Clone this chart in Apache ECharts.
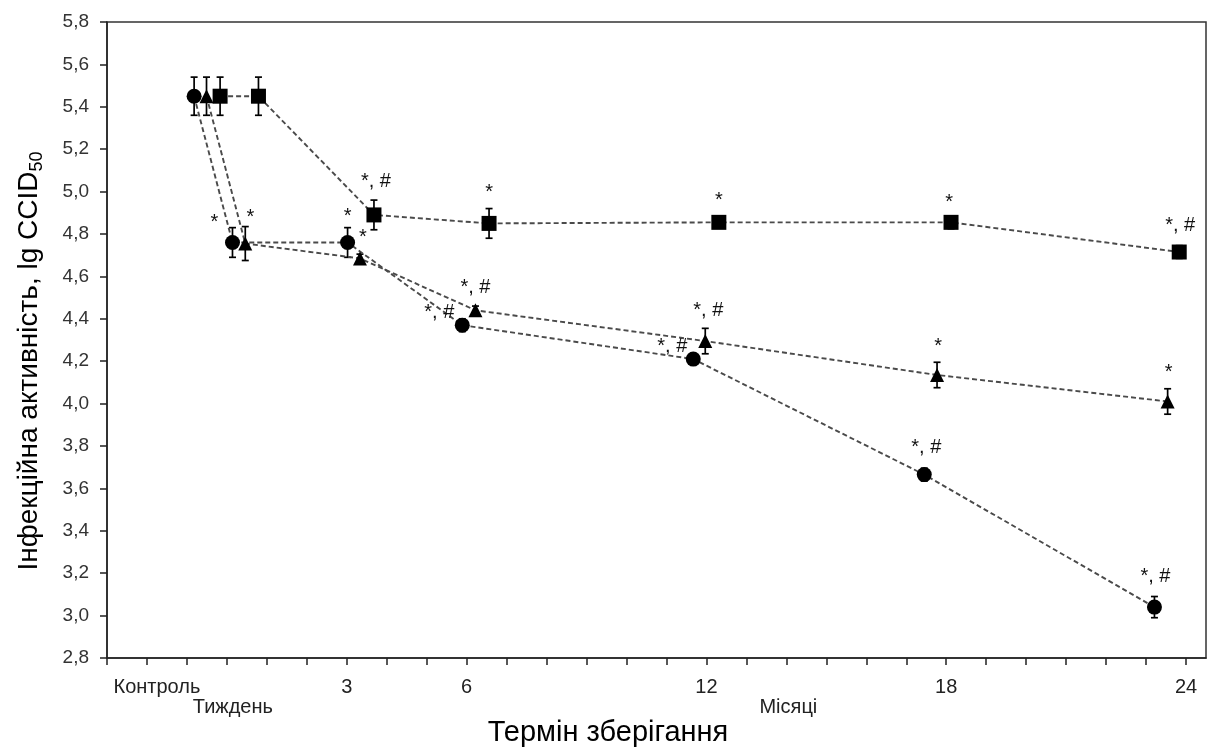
<!DOCTYPE html>
<html>
<head>
<meta charset="utf-8">
<script src="https://cdn.jsdelivr.net/npm/echarts@6/dist/echarts.min.js"></script>
<style>html,body{margin:0;padding:0;background:#fff}#c{width:1209px;height:747px}</style>
</head>
<body>
<div id="c"></div>
<script>
// ---- data ----
const xTickValues = [-3,-2,-1,0,1,2,3,4,5,6,7,8,9,10,11,12,13,14,15,16,17,18,19,20,21,22,23,24];
const xLabelValues = [-1.75, 3, 6, 12, 18, 24];
const xLabelTexts = ['Контроль', '3', '6', '12', '18', '24'];
const xLabel2Values = [0.15, 14.05];
const xLabel2Texts = ['Тиждень', 'Місяці'];

const circleX = [-0.82, 0.14, 3.02, 5.89, 11.67, 17.45, 23.21];
const circleY = [5.45, 4.76, 4.76, 4.37, 4.21, 3.665, 3.04];
const circleErr = [0.09, 0.07, 0.07, 0.03, 0.02, 0.03, 0.05];
const circleAnn = ['', '*', '*', '*, #', '*, #', '*, #', '*, #'];

const triX = [-0.51, 0.46, 3.33, 6.22, 11.97, 17.77, 23.54];
const triY = [5.45, 4.755, 4.685, 4.44, 4.295, 4.135, 4.01];
const triErr = [0.09, 0.08, 0.02, 0.02, 0.06, 0.06, 0.06];
const triAnn = ['', '*', '*', '*, #', '*, #', '*', '*'];

const sqX = [-0.17, 0.79, 3.68, 6.56, 12.31, 18.12, 23.83];
const sqY = [5.45, 5.45, 4.89, 4.85, 4.855, 4.855, 4.715];
const sqErr = [0.09, 0.09, 0.07, 0.07, 0.02, 0.03, 0.03];
const sqAnn = ['', '', '*, #', '*', '*', '*', '*, #'];

// ---- styles (label offsets relative to the marker centre, px) ----
const circleOff = [[0,0],[-18,-20],[0,-26],[-23,-13],[-21,-13],[2,-27],[1,-31]];
const triOff = [[0,0],[5,-26],[3,-21],[0,-23],[3,-31],[1,-28],[1,-29]];
const sqOff = [[0,0],[0,0],[2,-33],[0,-31],[0,-22],[-2,-20],[1,-27]];

const FONT = 'Liberation Sans, Arial, sans-serif';

function pts(xs, ys, ann, off) {
  return xs.map((x, i) => ({
    value: [x, ys[i]],
    label: ann[i] ? { show: true, formatter: ann[i], position: 'inside', offset: off[i] } : { show: false }
  }));
}

function lineSeries(name, xs, ys, ann, off, symbol, size) {
  return {
    name, type: 'line', z: 3,
    data: pts(xs, ys, ann, off),
    symbol, symbolSize: size, showAllSymbol: true,
    itemStyle: { color: '#000', borderWidth: 0 },
    lineStyle: { color: '#4a4a4a', width: 1.9, type: [5, 3] },
    label: { color: '#111', fontSize: 20, fontFamily: FONT },
    emphasis: { disabled: true },
    animation: false
  };
}

function errSeries(xs, ys, errs) {
  return {
    type: 'custom', z: 2, silent: true, animation: false,
    data: xs.map((x, i) => [x, ys[i], errs[i]]),
    renderItem: function (params, api) {
      const x = api.value(0), y = api.value(1), e = api.value(2);
      const top = api.coord([x, y + e]);
      const bot = api.coord([x, y - e]);
      const w = 3.5;
      const st = { stroke: '#000', lineWidth: 1.7 };
      return {
        type: 'group',
        children: [
          { type: 'line', shape: { x1: top[0], y1: top[1], x2: bot[0], y2: bot[1] }, style: st },
          { type: 'line', shape: { x1: top[0] - w, y1: top[1], x2: top[0] + w, y2: top[1] }, style: st },
          { type: 'line', shape: { x1: bot[0] - w, y1: bot[1], x2: bot[0] + w, y2: bot[1] }, style: st }
        ]
      };
    }
  };
}

const chart = echarts.init(document.getElementById('c'), null, { renderer: 'canvas' });

const option = {
  backgroundColor: '#fff',
  animation: false,
  textStyle: { fontFamily: FONT },
  grid: { left: 107, top: 22, right: 3, bottom: 89, show: true, borderColor: '#333', borderWidth: 1.5, backgroundColor: 'transparent' },
  xAxis: [
    {
      type: 'value', min: -3, max: 24.5, position: 'bottom',
      axisLine: { show: true, onZero: false, lineStyle: { color: '#222', width: 1.5 } },
      axisTick: { show: true, inside: false, length: 7, customValues: xTickValues, lineStyle: { color: '#222', width: 1.5 } },
      axisLabel: {
        show: true, customValues: xLabelValues, margin: 19,
        fontSize: 20, color: '#222', fontFamily: FONT,
        formatter: function (v) { const i = xLabelValues.findIndex(t => Math.abs(t - v) < 1e-6); return i >= 0 ? xLabelTexts[i] : ''; }
      },
      splitLine: { show: false }
    },
    {
      type: 'value', min: -3, max: 24.5, position: 'bottom', offset: 19,
      axisLine: { show: false }, axisTick: { show: false },
      axisLabel: {
        show: true, customValues: xLabel2Values, margin: 20,
        fontSize: 20, color: '#222', fontFamily: FONT,
        formatter: function (v) { const i = xLabel2Values.findIndex(t => Math.abs(t - v) < 1e-6); return i >= 0 ? xLabel2Texts[i] : ''; }
      },
      splitLine: { show: false }
    }
  ],
  yAxis: {
    type: 'value', min: 2.8, max: 5.8, interval: 0.2,
    axisLine: { show: true, onZero: false, lineStyle: { color: '#222', width: 1.5 } },
    axisTick: { show: true, inside: false, length: 7, lineStyle: { color: '#222', width: 1.5 } },
    axisLabel: { fontSize: 19, color: '#333', margin: 18, fontFamily: FONT, formatter: v => v.toFixed(1).replace('.', ',') },
    splitLine: { show: false }
  },
  series: [
    errSeries(circleX, circleY, circleErr),
    errSeries(triX, triY, triErr),
    errSeries(sqX, sqY, sqErr),
    lineSeries('circle', circleX, circleY, circleAnn, circleOff, 'circle', 15),
    lineSeries('triangle', triX, triY, triAnn, triOff, 'triangle', 14),
    lineSeries('square', sqX, sqY, sqAnn, sqOff, 'rect', 15)
  ],
  graphic: [
    {
      type: 'text', x: 608, y: 733, z: 10,
      style: { text: 'Термін зберігання', font: '29px ' + FONT, fill: '#000', textAlign: 'center', textVerticalAlign: 'middle' }
    },
    {
      type: 'text', x: 29, y: 361, rotation: Math.PI / 2, z: 10,
      style: {
        text: '{a|Інфекційна активність, lg CCID}{s|50}',
        textAlign: 'center', textVerticalAlign: 'middle',
        rich: {
          a: { fontSize: 28, fontFamily: FONT, fill: '#000', lineHeight: 34 },
          s: { fontSize: 18, fontFamily: FONT, fill: '#000', lineHeight: 34, verticalAlign: 'bottom', padding: [16, 0, 0, 0] }
        }
      }
    }
  ]
};
chart.setOption(option);
</script>
</body>
</html>
